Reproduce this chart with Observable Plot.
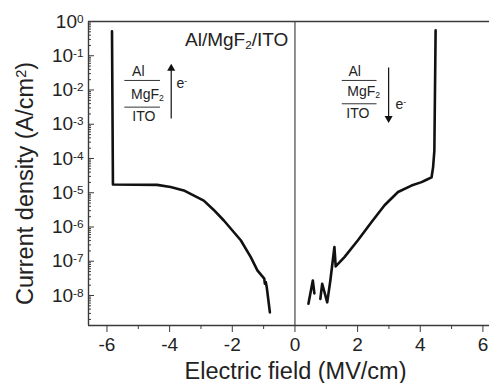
<!DOCTYPE html>
<html><head><meta charset="utf-8">
<script src="https://cdn.jsdelivr.net/npm/d3@7"></script>
<script src="https://cdn.jsdelivr.net/npm/@observablehq/plot@0.6"></script>
<style>
body{margin:0;background:#fff}
#chart svg{font-family:"Liberation Sans",Arial,sans-serif;overflow:hidden}
</style>
</head><body><div id="chart"></div>
<script>
// Negative-field branch
const negField = [-5.84, -5.81, -4.40, -3.97, -3.55, -2.91, -2.60, -2.27, -1.73, -1.41, -1.20, -0.98, -0.96, -0.93, -0.90, -0.86, -0.80];
const negCurrent = [0.52, 1.74e-5, 1.70e-5, 1.48e-5, 1.17e-5, 5.9e-6, 3.2e-6, 1.55e-6, 4.1e-7, 1.32e-7, 5.4e-8, 3.1e-8, 2.2e-8, 2.45e-8, 1.74e-8, 8.9e-9, 3.2e-9];
// Positive-field branch (null = gap in the measured trace)
const posField = [0.43, 0.57, 0.62, null, 0.81, 0.87, 1.03, 1.13, 1.26, 1.30, 1.58, 2.01, 2.44, 2.86, 3.29, 3.72, 4.04, 4.20, 4.36, 4.41, 4.45, 4.49];
const posCurrent = [5.75e-9, 2.75e-8, 1.15e-8, null, 7.9e-9, 2.2e-8, 6.3e-9, 2.75e-8, 2.6e-7, 7.1e-8, 1.32e-7, 4.1e-7, 1.38e-6, 4.3e-6, 1.05e-5, 1.62e-5, 2.04e-5, 2.4e-5, 2.8e-5, 5.6e-5, 1.7e-4, 0.55];

const xDomain = [-6.59, 6.21];
const yDomain = [1.33e-9, 1];
const xMajor = [-6, -4, -2, 0, 2, 4, 6];
const xMinor = [-5, -3, -1, 1, 3, 5];
const yMajor = [1e-8, 1e-7, 1e-6, 1e-5, 1e-4, 1e-3, 1e-2, 1e-1, 1];
const yMinor = [];
for (let d = -9; d < 0; d++) for (let k = 2; k <= 9; k++) { const v = k * Math.pow(10, d); if (v >= yDomain[0]) yMinor.push(v); }

// Annotations (data units)
const insetTexts = [
  {x: -5.20, y: 0.0347, t: "Al"}, {x: -5.23, y: 7.4e-3, t: "MgF_{2}"}, {x: -5.19, y: 1.7e-3, t: "ITO"}, {x: -3.78, y: 0.0155, t: "e^{-}"},
  {x: 1.71, y: 0.0347, t: "Al"}, {x: 1.67, y: 9.3e-3, t: "MgF_{2}"}, {x: 1.64, y: 2.1e-3, t: "ITO"}, {x: 3.21, y: 3.8e-3, t: "e^{-}"}
];
const insetRules = [
  {x1: -5.43, x2: -4.29, y: 0.019}, {x1: -5.43, x2: -4.29, y: 3.16e-3},
  {x1: 1.51, x2: 2.62, y: 0.019}, {x1: 1.51, x2: 2.62, y: 3.96e-3}
];
const arrows = [
  {x: -3.95, y1: 1.48e-3, y2: 0.0427, up: true},
  {x: 2.99, y1: 0.0457, y2: 1.48e-3, up: false}
];
const title = [{x: -0.21, y: 0.298, t: "Al/MgF_{2}/ITO"}];

const negData = negField.map((x, i) => ({x, y: negCurrent[i]}));
const posData = posField.map((x, i) => ({x, y: posCurrent[i]}));
const fmtY = d => "10^{" + String(Math.round(Math.log10(d))) + "}";
const axisColor = "#3a3a3a";

const plot = Plot.plot({
  width: 489, height: 383,
  marginLeft: 88, marginRight: 0, marginTop: 21, marginBottom: 58,
  x: {domain: xDomain, label: null},
  y: {type: "log", domain: yDomain, label: null},
  style: {fontFamily: "Liberation Sans, Arial, sans-serif", color: "#222", background: "#fff"},
  marks: [
    Plot.axisX(xMajor, {tickSize: 7, tickPadding: 5, fontSize: 19, stroke: axisColor, tickFormat: d => String(d), label: null}),
    Plot.axisX(xMinor, {tickSize: 4, stroke: axisColor, tickFormat: () => "", label: null}),
    Plot.axisY(yMajor, {tickSize: -6, tickPadding: 11, fontSize: 19, stroke: axisColor, tickFormat: fmtY, label: null}),
    Plot.axisY(yMinor, {tickSize: -3, stroke: axisColor, tickFormat: () => "", label: null}),
    Plot.ruleY([yDomain[1]], {stroke: axisColor, strokeWidth: 1.4}),
    Plot.ruleY([yDomain[0]], {stroke: axisColor, strokeWidth: 1.4}),
    Plot.ruleX([xDomain[0]], {stroke: axisColor, strokeWidth: 1.4}),
    Plot.ruleX([0], {stroke: "#444", strokeWidth: 1.2}),
    Plot.line(negData, {x: "x", y: "y", stroke: "#111", strokeWidth: 2.6}),
    Plot.line(posData, {x: "x", y: "y", stroke: "#111", strokeWidth: 2.6}),
    Plot.ruleY(insetRules, {x1: "x1", x2: "x2", y: "y", stroke: "#333", strokeWidth: 1}),
    Plot.link(arrows, {x1: "x", x2: "x", y1: "y1", y2: "y2", stroke: "#111", strokeWidth: 1.2}),
    Plot.dot(arrows, {x: "x", y: "y2", symbol: "triangle", r: 3, fill: "#111", stroke: null, rotate: d => d.up ? 0 : 180}),
    Plot.text(insetTexts, {x: "x", y: "y", text: "t", textAnchor: "start", lineAnchor: "middle", fontSize: 14, fill: "#222"}),
    Plot.text(title, {x: "x", y: "y", text: "t", textAnchor: "end", lineAnchor: "middle", fontSize: 19, fill: "#222"}),
    Plot.text(["Current density (A/cm^{2})"], {frameAnchor: "left", dx: -63, dy: 10, rotate: -90, fontSize: 23.5, textAnchor: "middle", lineAnchor: "middle", fill: "#222"}),
    Plot.text(["Electric field (MV/cm)"], {frameAnchor: "bottom", dx: 6.5, dy: 45.5, fontSize: 23.5, textAnchor: "middle", lineAnchor: "middle", fill: "#222"})
  ]
});

// convert _{..} / ^{..} markup into real sub/superscript tspans
d3.select(plot).selectAll("text").each(function() {
  const el = this;
  const targets = el.querySelectorAll("tspan").length ? Array.from(el.querySelectorAll("tspan")) : [el];
  targets.forEach(node => {
    const s = node.textContent;
    if (!/[_^]\{/.test(s)) return;
    node.textContent = "";
    const re = /([_^])\{([^}]*)\}/g;
    let last = 0, m;
    const ns = "http://www.w3.org/2000/svg";
    while ((m = re.exec(s))) {
      if (m.index > last) node.appendChild(document.createTextNode(s.slice(last, m.index)));
      const t = document.createElementNS(ns, "tspan");
      t.setAttribute("baseline-shift", m[1] === "_" ? "-25%" : "45%");
      t.setAttribute("font-size", "0.62em");
      t.textContent = m[2];
      node.appendChild(t);
      last = re.lastIndex;
    }
    if (last < s.length) node.appendChild(document.createTextNode(s.slice(last)));
  });
});
document.getElementById("chart").appendChild(plot);
</script>
</body></html>
